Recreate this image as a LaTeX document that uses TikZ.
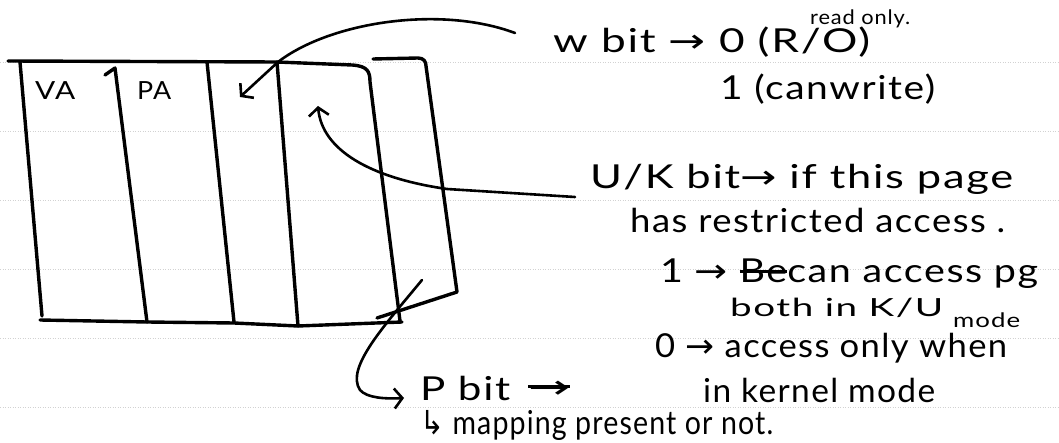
\documentclass[tikz,border=0pt]{standalone}
\usepackage{fontspec}
\usepackage{graphicx}
\setmainfont{Lato}[LetterSpace=4]
\newfontfamily\symf{DejaVu Sans}
\usetikzlibrary{arrows.meta}
\newcommand\arr{{\symf →}}
\newsavebox\strkbox
\newcommand\strk[1]{\sbox\strkbox{#1}\rlap{\rule[0.3em]{\wd\strkbox}{0.09em}}\usebox\strkbox}
\newcommand\fitto[2]{\resizebox{#1pt}{\height}{#2}}
\begin{document}
\begin{tikzpicture}[x=1pt,y=-1pt,
  pen/.style={line width=3.4pt, line cap=round, line join=round},
  penarrow/.style={line width=2.6pt, line cap=round, -{Straight Barb[length=8pt,width=20pt,line width=2.6pt]}},
  hand/.style={anchor=base west, inner sep=0pt, font=\fontsize{33}{36}\selectfont},
  small/.style={anchor=base west, inner sep=0pt, font=\fontsize{25}{27}\selectfont},
  tiny/.style={anchor=base west, inner sep=0pt, font=\fontsize{20}{22}\selectfont},
  paperrule/.style={gray!35, line width=0.8pt, dash pattern=on 1pt off 1.5pt}]
\useasboundingbox (0,0) rectangle (1059,443);
\fill[white] (0,0) rectangle (1059,443);
% paper rules
\foreach \yy in {62,131,200,269,338,407} {\draw[paperrule] (0,\yy) -- (1059,\yy);}
% table
\draw[pen] (8,61) -- (277,62) -- (352,65) .. controls (368,66) and (370,72) .. (370,82) -- (400,321);
\draw[pen] (20,62) -- (42,316);
\draw[pen] (105,75) -- (115,68) -- (147,322);
\draw[pen] (207,62) -- (234,322);
\draw[pen] (277,62) -- (298,326);
\draw[pen] (40,320) -- (147,322) -- (234,323) -- (298,326) -- (402,322);
\draw[pen] (373,59) -- (418,58) .. controls (424,58) and (426,62) .. (426,66) -- (457,292) -- (377,318);
\node[small] (va) at (35,100) {\fitto{40}{VA}};
\node[small] (pa) at (137,100) {\fitto{34}{PA}};
% texts
\node[tiny] (ro) at (810,25) {\fitto{100}{read only.}};
\node[hand] (w) at (553,53) {\fitto{317}{w bit \arr\ 0 (R/O)}};
\node[hand] (w1) at (720,100) {\fitto{215}{1 (canwrite)}};
\node[hand] (uk) at (590,189) {\fitto{423}{U/K bit\arr\ if this page}};
\node[hand] (uk2) at (630,233) {\fitto{375}{has restricted access .}};
\node[hand] (uk3) at (660,283) {\fitto{378}{1 \arr\ \strk{Be}can access pg}};
\node[small] (uk4) at (730,317) {\fitto{213}{both in K/U}};
\node[tiny] (uk4m) at (953,327) {\fitto{67}{mode}};
\node[hand] (uk5) at (655,357) {\fitto{352}{0 \arr\ access only when}};
\node[hand] (uk6) at (703,402) {\fitto{232}{in kernel mode}};
\node[hand] (pb) at (420,400) {\fitto{90}{P bit}};
\node[hand] (pbx) at (528,398) {\fitto{42}{\strk{\arr}}};
\node[hand] (mp) at (420,434) {\fitto{353}{{\symf ↳} mapping present or not.}};
% arrow anchors
\coordinate (wtail) at (515,33);
\coordinate (wbend) at (278,62);
\coordinate (wtip) at (240,97);
\coordinate (uktail) at (575,197);
\coordinate (ukbend) at (447,189);
\coordinate (uktip) at (318,106);
\coordinate (ptail) at (422,280);
\coordinate (plow) at (360,390);
\coordinate (ptip) at (404,398);
% arrows
\draw[penarrow] (wtail) .. controls (440,5) and (330,22) .. (wbend) -- (wtip);
\draw[penarrow] (uktail) -- (ukbend) .. controls (370,178) and (322,150) .. (uktip);
\draw[penarrow] (ptail) .. controls (385,325) and (345,368) .. (plow) .. controls (367,398) and (385,399) .. (ptip);
\end{tikzpicture}
\end{document}
